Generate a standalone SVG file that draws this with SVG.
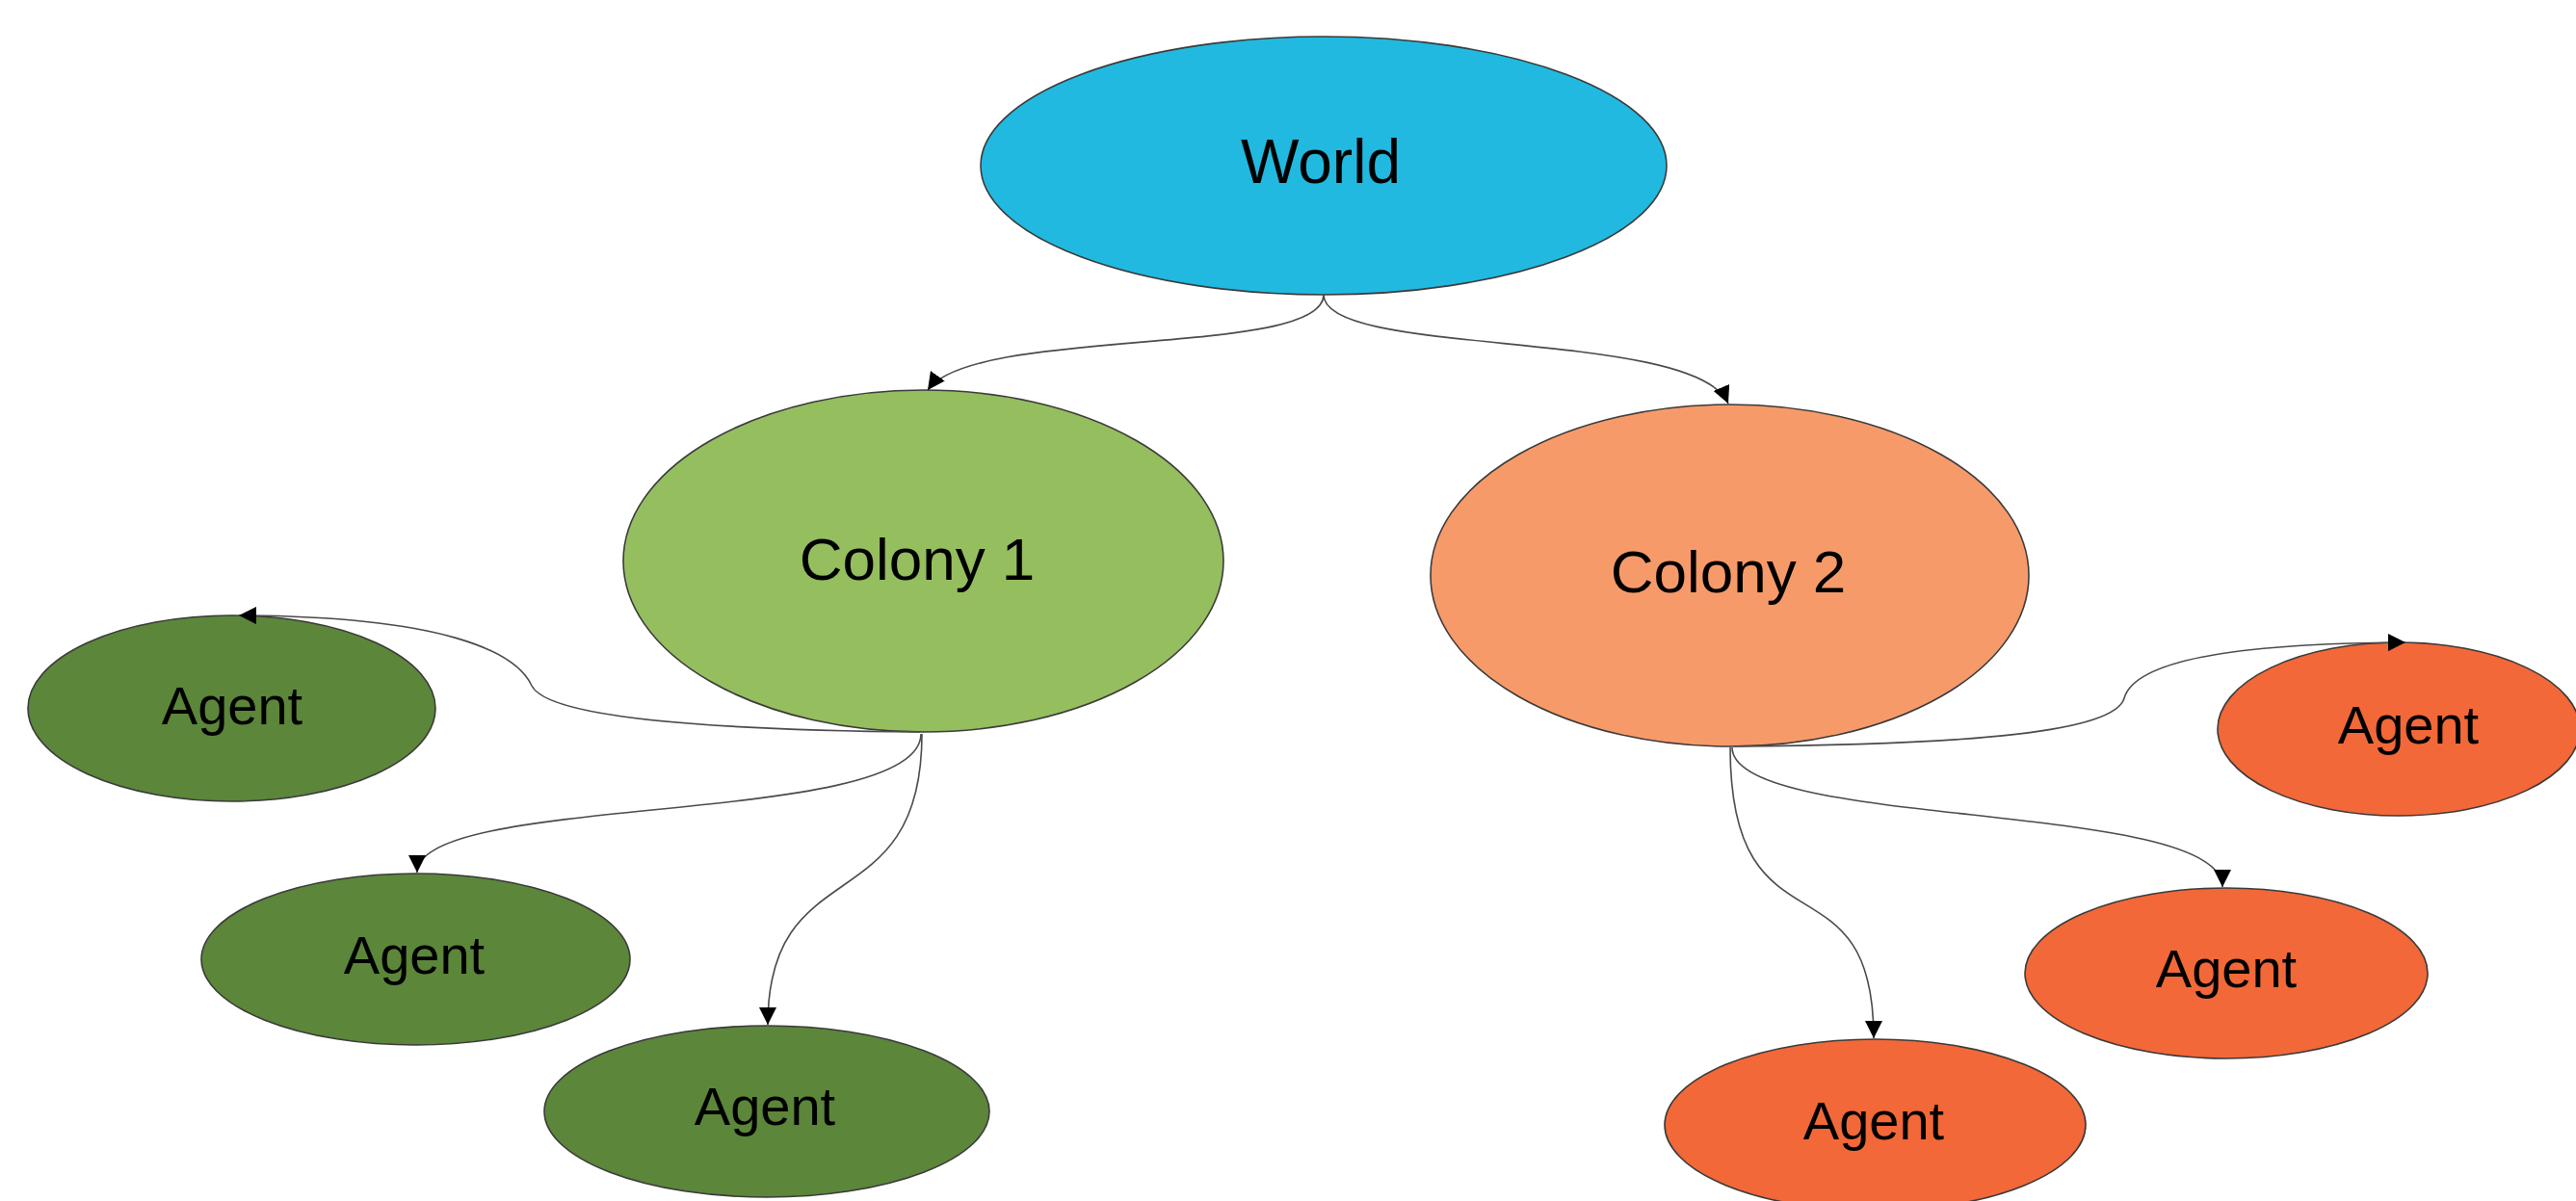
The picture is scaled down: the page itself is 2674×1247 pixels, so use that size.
<svg xmlns="http://www.w3.org/2000/svg" width="2674" height="1247" viewBox="0 0 2674 1247">
<style>
  .node ellipse { stroke: #3a3a3a; stroke-width: 1.6; }
  .node text { font-family: "Liberation Sans", Arial, sans-serif; fill: #000; text-anchor: middle; }
  .world ellipse { fill: #21B9DF; }
  .c1 ellipse { fill: #95BE5F; }
  .c2 ellipse { fill: #F79A69; }
  .ag ellipse { fill: #5C863A; }
  .ao ellipse { fill: #F26838; }
  .edge { fill: none; stroke: #4a4a4a; stroke-width: 1.6; marker-end: url(#arr); }
</style>
<defs>
  <marker id="arr" markerUnits="userSpaceOnUse" markerWidth="18" markerHeight="18" refX="18" refY="9" orient="auto" viewBox="0 0 18 18">
    <path d="M0,0 L18,9 L0,18 z" fill="#000"/>
  </marker>
</defs>
<rect width="2674" height="1247" fill="#fff"/>
<g id="world" class="node world">
  <ellipse cx="1374" cy="172" rx="356" ry="134"/>
  <text x="1371" y="190" font-size="64">World</text>
</g>
<g id="colony1" class="node c1">
  <ellipse cx="958.5" cy="582.5" rx="311.5" ry="177.5"/>
  <text x="952" y="602" font-size="62">Colony 1</text>
</g>
<g id="colony2" class="node c2">
  <ellipse cx="1795.5" cy="597.5" rx="310.5" ry="177.5"/>
  <text x="1794" y="615" font-size="62">Colony 2</text>
</g>
<g id="agent1" class="node ag">
  <ellipse cx="240.5" cy="735.5" rx="211.5" ry="96.5"/>
  <text x="241" y="752" font-size="56">Agent</text>
</g>
<g id="agent2" class="node ag">
  <ellipse cx="431.5" cy="996" rx="222.5" ry="89"/>
  <text x="430" y="1011" font-size="56">Agent</text>
</g>
<g id="agent3" class="node ag">
  <ellipse cx="796" cy="1154" rx="231" ry="89"/>
  <text x="794" y="1168" font-size="56">Agent</text>
</g>
<g id="agent4" class="node ao">
  <ellipse cx="2490" cy="757" rx="188" ry="90"/>
  <text x="2500" y="772" font-size="56">Agent</text>
</g>
<g id="agent5" class="node ao">
  <ellipse cx="2311" cy="1010.5" rx="209" ry="88.5"/>
  <text x="2311" y="1025" font-size="56">Agent</text>
</g>
<g id="agent6" class="node ao">
  <ellipse cx="1946.5" cy="1168" rx="218.5" ry="89"/>
  <text x="1945" y="1183" font-size="56">Agent</text>
</g>
<g id="connectors">
  <path class="edge" d="M1374,306 C1374,372 1010,338 963,405"/>
  <path class="edge" d="M1374,306 C1374,372 1760,340 1794,419"/>
  <path class="edge" d="M955,760 C760,758 570,748 552,712 C535,676 460,640 248,639"/>
  <path class="edge" d="M956,762 C956,860 433,822 433,906"/>
  <path class="edge" d="M957,762 C957,960 797,880 797,1064"/>
  <path class="edge" d="M1800,775 C2050,773 2195,760 2205,725 C2215,690 2300,668 2497,667"/>
  <path class="edge" d="M1798,776 C1798,862 2307,830 2307,921"/>
  <path class="edge" d="M1796,776 C1796,1000 1945,880 1945,1078"/>
</g>
</svg>
